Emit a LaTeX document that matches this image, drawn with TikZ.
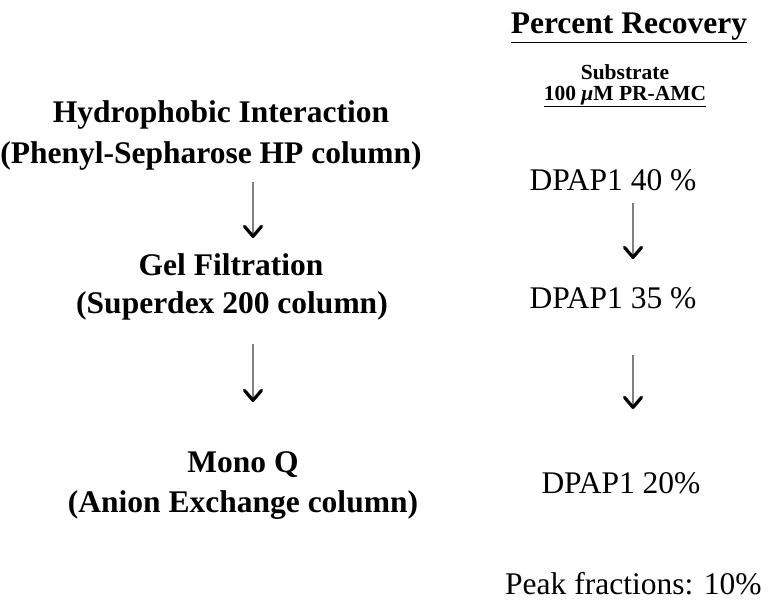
\documentclass[tikz,border=0pt]{standalone}
\usepackage{fontspec}
\setmainfont{Liberation Serif}
\usetikzlibrary{arrows.meta}
\tikzset{
  big/.style={inner sep=0pt, anchor=base, font=\fontsize{31.5}{36}\selectfont\bfseries},
  val/.style={inner sep=0pt, anchor=base, font=\fontsize{31.5}{36}\selectfont},
  small/.style={inner sep=0pt, anchor=base, font=\fontsize{21.5}{25}\selectfont\bfseries},
  flow/.style={draw=black!50, line width=2pt, -{Straight Barb[length=10pt,width=17pt,line width=3.2pt,black,round]}}
}
\begin{document}
\begin{tikzpicture}[x=1pt,y=-1pt]
\useasboundingbox (0,0) rectangle (769,602);
% left column
\node[big] (hi) at (221,122) {Hydrophobic Interaction};
\node[big] (ps) at (211,163) {(Phenyl-Sepharose HP column)};
\node[big] (gf) at (231,275) {Gel Filtration};
\node[big] (sd) at (232,313) {(Superdex 200 column)};
\node[big] (mq) at (243,472) {Mono Q};
\node[big] (ae) at (243,512) {(Anion Exchange column)};
\coordinate (la1) at (253,182);
\coordinate (lb1) at (253,238);
\coordinate (la2) at (253,344);
\coordinate (lb2) at (253,402);
\draw[flow] (la1) -- (lb1);
\draw[flow] (la2) -- (lb2);
% right column
\node[big] (pr) at (629,34) {\underline{Percent Recovery}};
\node[small] (sub) at (625,80) {Substrate};
\node[small] (amc) at (625,100) {\underline{100 \textit{μ}M PR-AMC}};
\node[val] (d40) at (613,190) {DPAP1 40 \%};
\node[val] (d35) at (613,308) {DPAP1 35 \%};
\node[val] (d20) at (621,493) {DPAP1 20\%};
\node[val, anchor=base west] (pk) at (505,594) {Peak fractions: 10\%};
\coordinate (ra1) at (633,203);
\coordinate (rb1) at (633,259);
\coordinate (ra2) at (633,355);
\coordinate (rb2) at (633,409);
\draw[flow] (ra1) -- (rb1);
\draw[flow] (ra2) -- (rb2);
\end{tikzpicture}
\end{document}
